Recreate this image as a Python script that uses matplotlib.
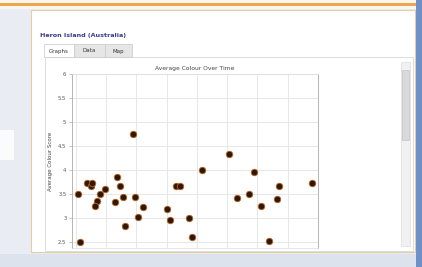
import numpy as np
import matplotlib.pyplot as plt
from matplotlib.patches import Rectangle
import matplotlib.transforms as mtransforms

# Data (x as fractional year, y as average colour score)
years = [2002.06, 2002.13, 2002.38, 2002.48, 2002.53, 2002.79, 2002.71, 2002.63,
         2002.96, 2003.29, 2003.37, 2003.45, 2003.54, 2003.63, 2003.87, 2003.95,
         2004.04, 2004.21, 2005.01, 2005.11, 2005.32, 2005.44, 2005.75, 2005.83,
         2006.15, 2007.07, 2007.31, 2007.72, 2007.90, 2008.13, 2008.38, 2008.64,
         2008.71, 2009.79]
scores = [3.49, 2.50, 3.72, 3.67, 3.72, 3.51, 3.36, 3.24,
          3.60, 3.34, 3.86, 3.67, 3.43, 2.84, 4.74, 3.43,
          3.02, 3.23, 3.19, 2.96, 3.66, 3.66, 3.01, 2.61,
          3.99, 4.33, 3.42, 3.51, 3.95, 3.26, 2.52, 3.40,
          3.67, 3.72]
ytick_vals = [2.5, 3, 3.5, 4, 4.5, 5, 5.5, 6]
ytick_labels = ['2.5', '3', '3.5', '4', '4.5', '5', '5.5', '6']
tabs = ['Graphs', 'Data', 'Map']

W, H = 422, 267
fig = plt.figure(figsize=(W / 100, H / 100), dpi=100)
fig.patch.set_facecolor('#e9edf3')

# pixel coords, y downwards
pix = mtransforms.Affine2D().scale(1 / W, -1 / H).translate(0, 1) + fig.transFigure


def box(x0, y0, x1, y1, fc, ec='none', lw=0.6, z=0):
    fig.add_artist(Rectangle((x0, y0), x1 - x0, y1 - y0, transform=pix,
                             facecolor=fc, edgecolor=ec, linewidth=lw, zorder=z))


def label(x, y, s, **kw):
    fig.text(x, y, s, transform=pix, **kw)


# window chrome
box(0, 0, W, 9, '#fbf6ee')
box(0, 3, 416, 6, '#eea54e')
box(416, 0, W, H, '#6f8fc8')
box(0, 130, 14, 160, '#fafbfd')
box(0, 254, 416, H, '#dde3ec')

# main panel
box(31, 10, 415, 252, 'white', '#e6cda6', lw=0.8)
label(40, 36, 'Heron Island (Australia)', color='#3b3b8c', fontsize=4.6,
      fontweight='bold', va='center')

# tabs
tab_x = [(44, 74), (74, 105), (105, 132)]
for (x0, x1), t in zip(tab_x, tabs):
    fc = 'white' if t == 'Graphs' else '#e6e6e6'
    box(x0, 44, x1, 57, fc, '#c8c8c8', lw=0.5, z=1)
    label((x0 + x1) / 2, 51, t, fontsize=4, color='#333333', ha='center',
          va='center', zorder=2)

# content frame and scrollbar
box(45, 57, 413, 251, 'white', '#cfcfcf', lw=0.5)
box(401, 62, 410, 246, '#f1f1f1', '#d6d6d6', lw=0.4, z=1)
box(402, 70, 409, 140, '#d9d9d9', '#bdbdbd', lw=0.4, z=2)

# chart
ax = fig.add_axes([72 / W, 1 - 248 / H, (318 - 72) / W, (248 - 74) / H])
ax.scatter(years, scores, s=22, color='#2e1808', edgecolors='#b9621f',
           linewidths=0.6, zorder=3, clip_on=False)
ax.set_xlim(2001.868, 2010)
ax.set_ylim(2.375, 6)
ax.set_xticks(range(2002, 2011))
ax.set_xticklabels([])
ax.set_yticks(ytick_vals)
ax.set_yticklabels(ytick_labels, fontsize=3.8, color='#555555')
ax.tick_params(axis='y', length=2, width=0.4, color='#999999', pad=2)
ax.tick_params(axis='x', length=0)
ax.grid(True, color='#e3e3e3', linewidth=0.6)
ax.set_axisbelow(True)
for side in ['left', 'right']:
    ax.spines[side].set_color('#aaaaaa')
    ax.spines[side].set_linewidth(0.6)
for side in ['top', 'bottom']:
    ax.spines[side].set_color('#dddddd')
    ax.spines[side].set_linewidth(0.5)
ax.set_title('Average Colour Over Time', fontsize=4.3, color='#444444', pad=3)
ax.set_ylabel('Average Colour Score', fontsize=4, color='#444444', labelpad=4)

fig.savefig('out.png', dpi=100, facecolor=fig.get_facecolor())
